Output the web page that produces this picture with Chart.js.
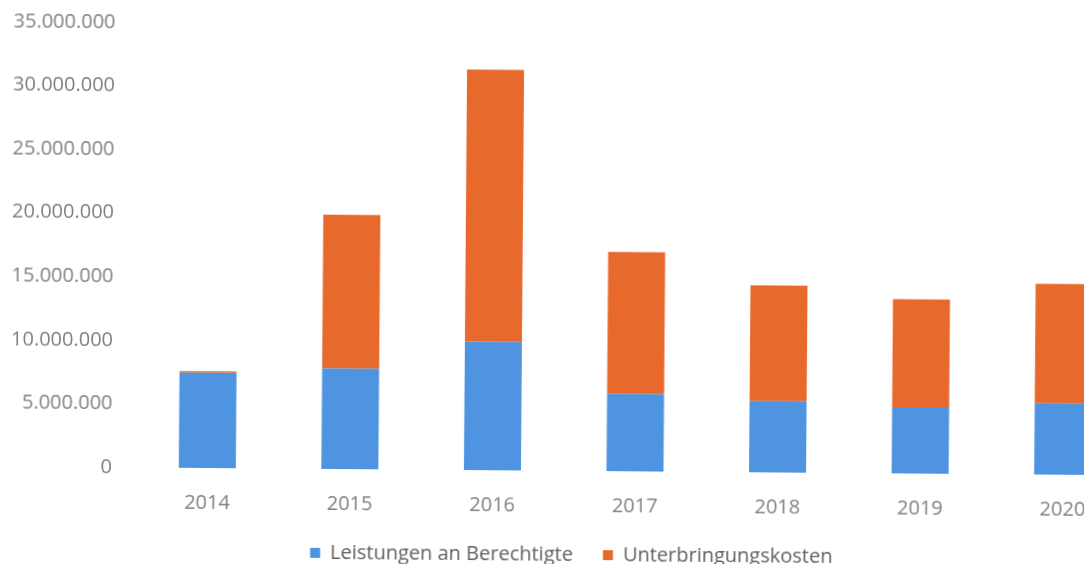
<!DOCTYPE html>
<html>
<head>
<meta charset="utf-8">
<script src="https://cdn.jsdelivr.net/npm/chart.js@4"></script>
<style>
  html, body { margin: 0; padding: 0; background: #fff; overflow: hidden; }
  #wrap {
    position: absolute; left: 0; top: -13px; width: 1150px; height: 585px;
    transform: rotate(0.45deg); transform-origin: 207px 481px;
  }
</style>
</head>
<body>
<div id="wrap"><canvas id="c"></canvas></div>
<script>
// Jahre
const years = ['2014', '2015', '2016', '2017', '2018', '2019', '2020'];
// Leistungen an Berechtigte (EUR)
const leistungen = [7500000, 7900000, 10100000, 6100000, 5600000, 5200000, 5600000];
// Unterbringungskosten (EUR)
const unterbringung = [100000, 12100000, 21400000, 11150000, 9100000, 8500000, 9400000];
// Beschriftung der y-Achse
const yTicks = [0, 5000000, 10000000, 15000000, 20000000, 25000000, 30000000, 35000000];

const fmt = v => v === 0 ? '0' : v.toLocaleString('de-DE');
const tickFont = { family: 'Open Sans', size: 20 };
const legendFont = { family: 'Open Sans', size: 20 };

new Chart(document.getElementById('c'), {
  type: 'bar',
  data: {
    labels: years,
    datasets: [
      { label: 'Leistungen an Berechtigte', data: leistungen, backgroundColor: '#4f94e0' },
      { label: 'Unterbringungskosten', data: unterbringung, backgroundColor: '#e8692c' }
    ]
  },
  options: {
    responsive: true,
    maintainAspectRatio: false,
    animation: false,
    layout: { padding: { left: 10, top: 0, right: 16, bottom: 0 } },
    datasets: { bar: { categoryPercentage: 1, barPercentage: 0.4 } },
    plugins: {
      tooltip: { enabled: false },
      legend: {
        position: 'bottom',
        labels: { font: legendFont, color: '#606060', boxWidth: 10, boxHeight: 10, padding: 30 }
      }
    },
    scales: {
      x: {
        stacked: true,
        grid: { display: false, drawTicks: false },
        border: { display: false },
        ticks: { font: tickFont, color: '#808080', padding: 23 },
        afterFit: axis => { axis.height = 44; }
      },
      y: {
        stacked: true,
        min: 0,
        max: 35000000,
        afterBuildTicks: axis => { axis.ticks = yTicks.map(v => ({ value: v })); },
        grid: { display: false, drawTicks: false },
        border: { display: false },
        ticks: { font: tickFont, color: '#808080', padding: 24, callback: v => fmt(v) },
        afterFit: axis => { axis.width = 126; }
      }
    }
  }
});
</script>
</body>
</html>
